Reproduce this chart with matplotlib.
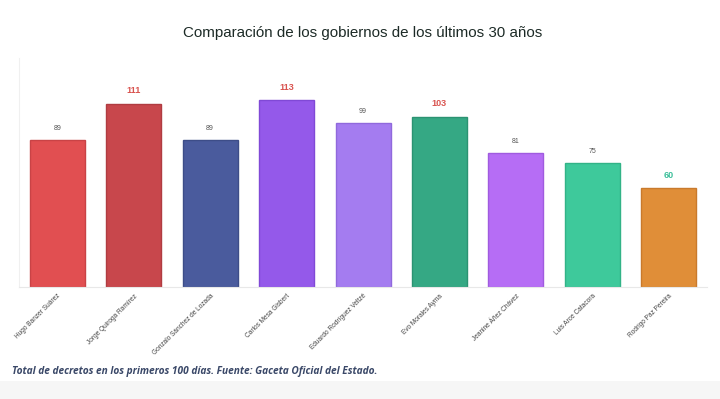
import matplotlib
matplotlib.use("Agg")
import matplotlib.pyplot as plt

# Data
presidentes = [
    "Hugo Banzer Suárez",
    "Jorge Quiroga Ramírez",
    "Gonzalo Sánchez de Lozada",
    "Carlos Mesa Gisbert",
    "Eduardo Rodríguez Veltzé",
    "Evo Morales Ayma",
    "Jeanine Áñez Chávez",
    "Luis Arce Catacora",
    "Rodrigo Paz Pereira",
]
decretos = [89, 111, 89, 113, 99, 103, 81, 75, 60]
colores = ["#e14f51", "#c8474c", "#4a5b9d", "#9459ea", "#a47cf0",
           "#35a884", "#b66df5", "#3ec99b", "#e08e38"]
bordes = ["#c94346", "#b03c41", "#3d4d88", "#8049d6", "#9069dc",
          "#2b9372", "#a05bdf", "#32b387", "#c97a2c"]
destacados = {1: "#d9534f", 3: "#d9534f", 5: "#d9534f", 8: "#3cbf9a"}

fig = plt.figure(figsize=(7.2, 3.99), dpi=100)
fig.patch.set_facecolor("white")
ax = fig.add_axes([0.0264, 0.2807, 0.9556, 0.574])

x = range(len(decretos))
ax.bar(x, decretos, width=0.72, color=colores, edgecolor=bordes, linewidth=1.0, zorder=2)

for i, v in enumerate(decretos):
    if i in destacados:
        ax.annotate(str(v), (i, v), xytext=(0, 6), textcoords="offset points",
                    ha="center", va="bottom", fontsize=6.5, fontweight="bold",
                    color=destacados[i], family="Liberation Sans")
    else:
        ax.annotate(str(v), (i, v), xytext=(0, 6), textcoords="offset points",
                    ha="center", va="bottom", fontsize=5, color="#555555",
                    family="Liberation Sans")

ax.set_xlim(-0.5, len(decretos) - 0.5)
ax.set_ylim(0, 138.6)
ax.set_yticks([])
ax.set_xticks(list(x))
ax.set_xticklabels(presidentes, rotation=45, ha="right", va="top",
                   rotation_mode="anchor", fontsize=4.7, color="#444444",
                   family="Liberation Sans")
ax.tick_params(axis="x", length=0, pad=4)

for side in ["top", "right"]:
    ax.spines[side].set_visible(False)
ax.spines["left"].set_color("#f0f0f0")
ax.spines["bottom"].set_color("#e8e8e8")
ax.spines["left"].set_linewidth(0.8)
ax.spines["bottom"].set_linewidth(0.8)

fig.text(0.504, 0.917, "Comparación de los gobiernos de los últimos 30 años",
         ha="center", va="center", fontsize=10.9, color="#1c2a26",
         family="Liberation Sans")

fig.text(0.017, 0.07, "Total de decretos en los primeros 100 días. Fuente: Gaceta Oficial del Estado.",
         ha="left", va="center", fontsize=7.3, fontweight="bold", style="italic",
         color="#3a4868", family="Open Sans")

# light gray band at the bottom
fig.patches.append(plt.Rectangle((0, 0), 1, 0.045, transform=fig.transFigure,
                                 facecolor="#f6f6f6", edgecolor="none", zorder=0))

fig.savefig("out.png", dpi=100)
